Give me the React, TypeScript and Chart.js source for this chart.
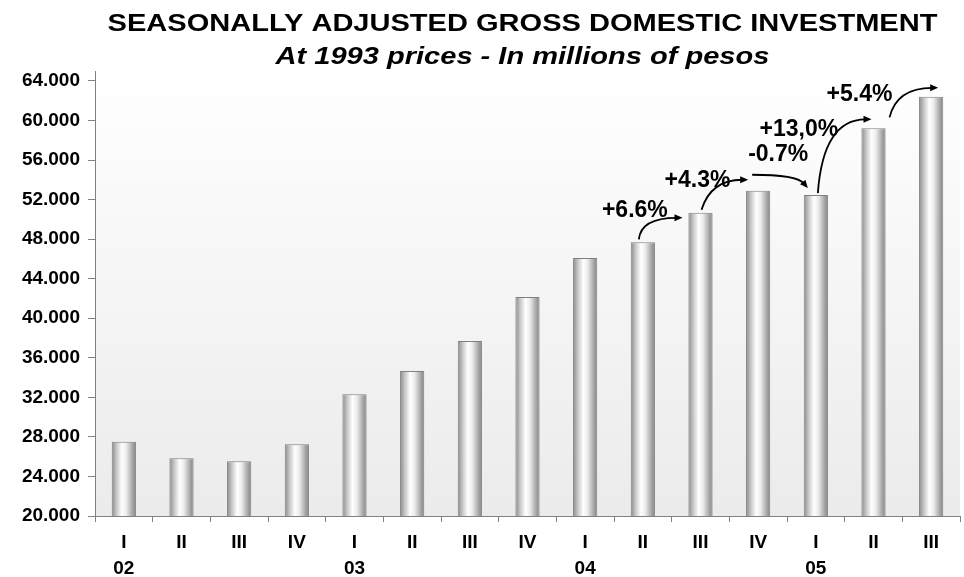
import React, { useEffect, useRef } from "react";
import { Chart, registerables } from "chart.js";

Chart.register(...registerables);

// ---------- data ----------
const quarters = ["I", "II", "III", "IV", "I", "II", "III", "IV", "I", "II", "III", "IV", "I", "II", "III"];
const years = ["02", "", "", "", "03", "", "", "", "04", "", "", "", "05", "", ""];
const investment = [27500, 25830, 25530, 27250, 32300, 34660, 37700, 42140, 46100, 47670, 50660, 52890, 52450, 59200, 62390];
const yTickValues = [20000, 24000, 28000, 32000, 36000, 40000, 44000, 48000, 52000, 56000, 60000, 64000];
const changeLabels = ["+6.6%", "+4.3%", "-0.7%", "+13,0%", "+5.4%"];
const changeFrom = [9, 10, 11, 12, 13];

const titleLine1 = "SEASONALLY ADJUSTED GROSS DOMESTIC INVESTMENT";
const titleLine2 = "At 1993 prices - In millions of pesos";

// ---------- styling (relative offsets for annotation arrows) ----------
const FONT = "'Liberation Sans', Arial, Helvetica, sans-serif";
const arrowStyles = [
  { s: [-4, -3], e: [-18, 5], cx: 0.05, cy: 0, t: [-8, -32] },
  { s: [1, -3], e: [-10, -11], cx: 0.2, cy: 0, t: [-3, -32] },
  { s: [-6, -16], e: [-8, -7], cx: 0.8, cy: 1, t: [20, -36] },
  { s: [2, -2], e: [-2, -9], cx: 0.1, cy: 0, t: [-17, -65] },
  { s: [16, -11], e: [7, -9], cx: 0.15, cy: 0, t: [-14, -34] },
];

const BAR_PCT = 0.42;

function fmt(v: number): string {
  const s = Math.round(v).toString();
  return s.replace(/\B(?=(\d{3})+(?!\d))/g, ".");
}

const backgroundPlugin = {
  id: "bgPlugin",
  beforeDraw(chart: any) {
    const { ctx, chartArea } = chart;
    ctx.save();
    ctx.fillStyle = "#ffffff";
    ctx.fillRect(0, 0, chart.width, chart.height);
    if (chartArea) {
      const g = ctx.createLinearGradient(0, chartArea.top, 0, chartArea.bottom);
      g.addColorStop(0, "#ffffff");
      g.addColorStop(1, "#ebebeb");
      ctx.fillStyle = g;
      ctx.fillRect(chartArea.left, chartArea.top, chartArea.right - chartArea.left, chartArea.bottom - chartArea.top);
    }
    ctx.restore();
  },
};

const titlePlugin = {
  id: "titlePlugin",
  afterDraw(chart: any) {
    const { ctx, chartArea } = chart;
    const cx = (chartArea.left + chartArea.right) / 2 - 5;
    const stretch = 1.21;
    ctx.save();
    ctx.fillStyle = "#000";
    ctx.textAlign = "center";
    ctx.textBaseline = "alphabetic";
    ctx.font = `bold 24px ${FONT}`;
    ctx.save();
    ctx.translate(cx, 30.5);
    ctx.scale(stretch, 1);
    ctx.fillText(titleLine1, 0, 0);
    ctx.restore();
    ctx.font = `italic bold 24px ${FONT}`;
    ctx.save();
    ctx.translate(cx, 64);
    ctx.scale(stretch, 1);
    ctx.fillText(titleLine2, 0, 0);
    ctx.restore();
    ctx.restore();
  },
};

const arrowPlugin = {
  id: "arrowPlugin",
  afterDatasetsDraw(chart: any) {
    const { ctx } = chart;
    const xs = chart.scales.x;
    const ys = chart.scales.y;
    ctx.save();
    changeLabels.forEach((label, k) => {
      const i = changeFrom[k];
      const j = i + 1;
      const st = arrowStyles[k];
      const xi = xs.getPixelForValue(i);
      const yi = ys.getPixelForValue(investment[i]);
      const xj = xs.getPixelForValue(j);
      const yj = ys.getPixelForValue(investment[j]);
      const sx = xi + st.s[0];
      const sy = yi + st.s[1];
      const ex = xj + st.e[0];
      const ey = yj + st.e[1];
      const qx = sx + st.cx * (ex - sx);
      const qy = ey + st.cy * (sy - ey);
      let dx = ex - qx;
      let dy = ey - qy;
      const len = Math.hypot(dx, dy) || 1;
      dx /= len;
      dy /= len;
      const headLen = 8;
      const headW = 3.5;
      const bx = ex - dx * headLen;
      const by = ey - dy * headLen;
      ctx.strokeStyle = "#000";
      ctx.lineWidth = 1.8;
      ctx.beginPath();
      ctx.moveTo(sx, sy);
      ctx.quadraticCurveTo(qx, qy, bx + dx * 2, by + dy * 2);
      ctx.stroke();
      ctx.fillStyle = "#000";
      ctx.beginPath();
      ctx.moveTo(ex, ey);
      ctx.lineTo(bx - dy * headW, by + dx * headW);
      ctx.lineTo(bx + dy * headW, by - dx * headW);
      ctx.closePath();
      ctx.fill();
      ctx.font = `bold 23px ${FONT}`;
      ctx.textAlign = "center";
      ctx.textBaseline = "middle";
      ctx.fillText(label, xi + st.t[0], yi + st.t[1]);
    });
    ctx.restore();
  },
};

function barGradient(context: any) {
  const chart = context.chart;
  const xs = chart.scales && chart.scales.x;
  if (!chart.chartArea || !xs || context.dataIndex === undefined) return "#cccccc";
  const cx = xs.getPixelForValue(context.dataIndex);
  const w = (xs.width / quarters.length) * BAR_PCT;
  const g = chart.ctx.createLinearGradient(cx - w / 2, 0, cx + w / 2, 0);
  g.addColorStop(0, "#888888");
  g.addColorStop(0.18, "#c2c2c2");
  g.addColorStop(0.42, "#ffffff");
  g.addColorStop(0.6, "#ececec");
  g.addColorStop(0.85, "#a8a8a8");
  g.addColorStop(1, "#828282");
  return g;
}

export default function App() {
  const ref = useRef<HTMLCanvasElement | null>(null);
  useEffect(() => {
    document.body.style.margin = "0";
    if (!ref.current) return;
    const labels = quarters.map((q, i) => [q, years[i]]);
    const tickFont = { family: FONT, size: 19, weight: "bold" as const };
    const chart = new Chart(ref.current, {
      type: "bar",
      data: {
        labels,
        datasets: [
          {
            data: investment,
            backgroundColor: barGradient,
            borderColor: "#808080",
            borderWidth: 1,
            barPercentage: BAR_PCT,
            categoryPercentage: 1,
          },
        ],
      },
      options: {
        animation: false,
        responsive: false,
        maintainAspectRatio: false,
        layout: { padding: { top: 71, right: 4, left: 0, bottom: 0 } },
        plugins: {
          legend: { display: false },
          title: { display: false },
          tooltip: { enabled: false },
        },
        scales: {
          x: {
            grid: {
              display: true,
              drawOnChartArea: false,
              drawTicks: true,
              tickLength: 6,
              color: "#808080",
              offset: true,
            },
            border: { display: true, color: "#808080", width: 1 },
            ticks: {
              color: "#000",
              font: { ...tickFont, lineHeight: 1.36 },
              padding: 8,
              maxRotation: 0,
              autoSkip: false,
            },
            afterFit: (s: any) => {
              s.height = 61;
            },
          },
          y: {
            min: 20000,
            max: 65000,
            afterBuildTicks: (s: any) => {
              s.ticks = yTickValues.map((v) => ({ value: v }));
            },
            grid: {
              display: true,
              drawOnChartArea: false,
              drawTicks: true,
              tickLength: 7,
              color: "#808080",
            },
            border: { display: true, color: "#808080", width: 1 },
            ticks: {
              color: "#000",
              font: tickFont,
              padding: 8,
              callback: (v: any) => fmt(Number(v)),
            },
            afterFit: (s: any) => {
              s.width = 95;
            },
          },
        },
      },
      plugins: [backgroundPlugin, titlePlugin, arrowPlugin],
    });
    return () => chart.destroy();
  }, []);
  return (
    <div style={{ width: 964, height: 577 }}>
      <canvas ref={ref} width={964} height={577} style={{ display: "block" }} />
    </div>
  );
}
